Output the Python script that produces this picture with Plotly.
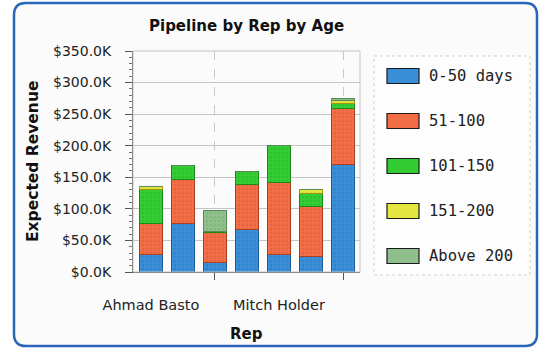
import plotly.graph_objects as go

# Pipeline value (in $K) per rep, stacked by opportunity age bucket
rep_positions = [0, 1, 2, 3, 4, 5, 6]
rep_label_positions = [0, 4]
rep_labels = ["Ahmad Basto", "Mitch Holder"]
divider_positions = [2, 6]

age_buckets = ["0-50 days", "51-100", "101-150", "151-200", "Above 200"]
age_0_50 = [27, 77, 15, 67, 27, 25, 170]
age_51_100 = [50, 70, 47, 71, 115, 78, 89]
age_101_150 = [54, 21, 2, 21, 58, 22, 8]
age_151_200 = [5, 0, 0, 0, 0, 5, 5]
age_above_200 = [0, 0, 34, 0, 0, 0, 3]

y_ticks = [0, 50, 100, 150, 200, 250, 300, 350]
y_tick_text = [f"${v:.1f}K" for v in y_ticks]

fills = ["#3a8ed8", "#f26c45", "#33cc33", "#e6e640", "#8fbf8a"]
edges = ["#1d5a96", "#a8401f", "#1a8a1a", "#9a9a10", "#5a8a58"]

W, H = 542, 349
FONT = "DejaVu Sans"


def px(x):
    return x / W


def py(y):
    return 1 - y / H


def pixel_path(p):
    out = []
    for tok in p.split():
        if "," in tok:
            a, b = tok.split(",")
            out.append(f"{px(float(a)):.5f},{py(float(b)):.5f}")
        else:
            out.append(tok)
    return " ".join(out)


series = [age_0_50, age_51_100, age_101_150, age_151_200, age_above_200]

fig = go.Figure()
for name, vals, fc, ec in zip(age_buckets, series, fills, edges):
    fig.add_trace(go.Bar(
        x=rep_positions, y=vals, name=name,
        marker=dict(color=fc, line=dict(color=ec, width=1),
                    pattern=dict(shape=".", fgcolor=ec, size=4, solidity=0.12)),
        showlegend=False,
        hovertemplate=name + ": $%{y:.1f}K<extra></extra>",
    ))

shapes = []

# rounded panel border
x0, y0, x1, y1, r = 14, 3, 537, 346, 12
panel = (f"M {x0 + r},{y0} L {x1 - r},{y0} Q {x1},{y0} {x1},{y0 + r} "
         f"L {x1},{y1 - r} Q {x1},{y1} {x1 - r},{y1} L {x0 + r},{y1} "
         f"Q {x0},{y1} {x0},{y1 - r} L {x0},{y0 + r} Q {x0},{y0} {x0 + r},{y0} Z")
shapes.append(dict(type="path", xref="paper", yref="paper", path=pixel_path(panel),
                   line=dict(color="#2a66b8", width=2.5), fillcolor="#fbfbfb", layer="below"))

# plot frame
shapes.append(dict(type="rect", xref="paper", yref="paper",
                   x0=px(133), x1=px(360), y0=py(272), y1=py(51),
                   line=dict(color="#c4c4c4", width=1), layer="above"))

# legend box
shapes.append(dict(type="rect", xref="paper", yref="paper",
                   x0=px(374), x1=px(530), y0=py(275), y1=py(56),
                   line=dict(color="#cfcfcf", width=1, dash="dot"), fillcolor="#fdfdfd"))

annotations = []
for i, (name, fc) in enumerate(zip(age_buckets, fills)):
    cy = 76 + 45 * i
    shapes.append(dict(type="rect", xref="paper", yref="paper",
                       x0=px(387), x1=px(419), y0=py(cy + 7.5), y1=py(cy - 7.5),
                       line=dict(color="#1a1a1a", width=1.2), fillcolor=fc))
    annotations.append(dict(x=px(427), y=py(cy), xref="paper", yref="paper",
                            text=name, showarrow=False, xanchor="left", yanchor="middle",
                            font=dict(family="DejaVu Sans Mono", size=15.5, color="#222")))

annotations += [
    dict(x=px(246), y=py(26), xref="paper", yref="paper", text="<b>Pipeline by Rep by Age</b>",
         showarrow=False, xanchor="center", yanchor="middle",
         font=dict(family=FONT, size=15, color="#111")),
    dict(x=px(33), y=py(162), xref="paper", yref="paper", text="<b>Expected Revenue</b>",
         showarrow=False, textangle=-90, xanchor="center", yanchor="middle",
         font=dict(family=FONT, size=15.5, color="#111")),
    dict(x=px(246), y=py(334), xref="paper", yref="paper", text="<b>Rep</b>",
         showarrow=False, xanchor="center", yanchor="middle",
         font=dict(family=FONT, size=15, color="#111")),
]

fig.update_layout(
    width=W, height=H,
    margin=dict(l=0, r=0, t=0, b=0),
    barmode="stack", bargap=0.29,
    paper_bgcolor="white", plot_bgcolor="#f6f6f6",
    shapes=shapes, annotations=annotations,
    showlegend=False,
    xaxis=dict(
        domain=[px(133), px(360)], range=[-0.56, 6.53], automargin=False,
        tickmode="array", tickvals=rep_label_positions, ticktext=rep_labels,
        ticks="", showgrid=False, zeroline=False,
        showline=True, linecolor="#555", linewidth=1,
        ticklabelstandoff=20,
        tickfont=dict(family=FONT, size=14.5, color="#222"),
        minor=dict(tickmode="array", tickvals=divider_positions, ticks="outside",
                   ticklen=7, tickcolor="#555", showgrid=True,
                   gridcolor="#c8c8c8", griddash="dash", gridwidth=1),
    ),
    yaxis=dict(
        domain=[py(272), py(51)], range=[0, 350], automargin=False,
        tickmode="array", tickvals=y_ticks, ticktext=y_tick_text,
        ticks="outside", ticklen=7, tickcolor="#555",
        ticklabelstandoff=11,
        showgrid=True, gridcolor="#c4c4c4", gridwidth=1, zeroline=False,
        showline=True, linecolor="#555", linewidth=1,
        tickfont=dict(family=FONT, size=14, color="#222"),
        minor=dict(tickmode="linear", tick0=0, dtick=10, ticks="outside",
                   ticklen=3, tickcolor="#777", showgrid=False),
    ),
)

fig.write_html("out.html")
